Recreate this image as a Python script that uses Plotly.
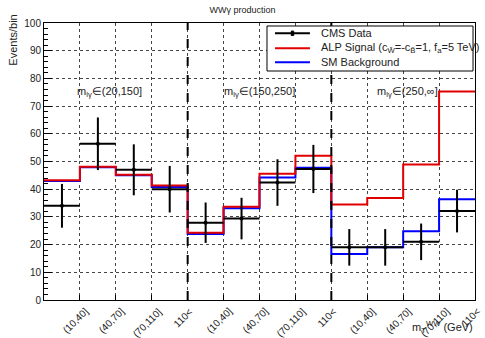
import plotly.graph_objects as go

# bin labels (12 bins, three m_lγ regions of four m_T^WW bins each)
bin_labels = ["(10,40]", "(40,70]", "(70,110]", "110<"] * 3
region_labels = ["m<sub>lγ</sub>∈(20,150]", "m<sub>lγ</sub>∈(150,250]", "m<sub>lγ</sub>∈(250,∞]"]
region_edges = [4, 8]

cms_data = [34.0, 56.4, 47.0, 40.0, 27.9, 29.4, 42.4, 47.3, 19.0, 19.0, 21.0, 32.1]
cms_err = [7.9, 9.5, 9.2, 8.4, 7.3, 7.5, 8.4, 8.7, 6.6, 6.6, 6.6, 7.7]
alp_signal = [43.2, 48.1, 45.2, 41.3, 24.3, 33.7, 45.6, 52.1, 34.5, 36.8, 48.9, 75.3]
sm_background = [43.0, 47.9, 45.0, 40.8, 23.8, 33.1, 44.2, 47.7, 16.6, 19.0, 24.8, 36.4]

legend_names = ["CMS Data",
                "ALP Signal (c<sub>W\u0303</sub>=-c<sub>B\u0303</sub>=1, f<sub>a</sub>=5 TeV)",
                "SM Background"]
legend_colors = ["black", "#e00000", "#0000ff"]

n_bins = len(cms_data)
edges = list(range(n_bins + 1))
centers = [i + 0.5 for i in range(n_bins)]

FONT = "Liberation Sans, Arial, sans-serif"
TXT = "#222222"

fig = go.Figure()

# histogrammes en escalier
fig.add_trace(go.Scatter(
    x=edges, y=sm_background + sm_background[-1:],
    mode="lines", line=dict(color="#0000ff", width=2, shape="hv"),
    name="SM Background",
))
fig.add_trace(go.Scatter(
    x=edges, y=alp_signal + alp_signal[-1:],
    mode="lines", line=dict(color="#e00000", width=2, shape="hv"),
    name="ALP Signal",
))
fig.add_trace(go.Scatter(
    x=centers, y=cms_data, mode="markers",
    marker=dict(color="black", size=4),
    error_x=dict(type="constant", value=0.5, color="black", thickness=2, width=0),
    error_y=dict(type="data", array=cms_err, color="black", thickness=2, width=0),
    name="CMS Data",
))

for xe in region_edges:
    fig.add_shape(type="line", xref="x", yref="y", x0=xe, x1=xe, y0=0, y1=100,
                  line=dict(color="black", width=2, dash="dash"), layer="above")

# bin labels, rotated
for i, lab in enumerate(bin_labels):
    fig.add_annotation(x=i + 1 - 0.12, y=0, xref="x", yref="paper", text=lab,
                       textangle=-45, showarrow=False, xanchor="center", yanchor="top",
                       yshift=-3, font=dict(family=FONT, size=10, color=TXT))

region_x = [0.86, 4.96, 9.22]
for xl, lab in zip(region_x, region_labels):
    fig.add_annotation(x=xl, y=75, xref="x", yref="y", text=lab, showarrow=False,
                       xanchor="left", yanchor="middle",
                       font=dict(family=FONT, size=11, color=TXT))

# legende dessinee a la main (style ROOT)
fig.add_shape(type="rect", xref="paper", yref="paper", x0=0.5174, x1=0.9954, y0=0.8267, y1=0.9892,
              line=dict(color="black", width=1), fillcolor="white", layer="above")
leg_y = [0.9628, 0.9087, 0.8581]
for ly, name, col in zip(leg_y, legend_names, legend_colors):
    fig.add_shape(type="line", xref="paper", yref="paper", x0=0.536, x1=0.617, y0=ly, y1=ly,
                  line=dict(color=col, width=2), layer="above")
    fig.add_annotation(x=0.638, y=ly, xref="paper", yref="paper", text=name, showarrow=False,
                       xanchor="left", yanchor="middle",
                       font=dict(family=FONT, size=11, color=TXT))
fig.add_shape(type="rect", xref="paper", yref="paper", x0=0.5737, x1=0.5793, y0=leg_y[0] - 0.008,
              y1=leg_y[0] + 0.008, line=dict(color="black", width=1), fillcolor="black", layer="above")

fig.add_annotation(x=-0.074, y=1.036, xref="paper", yref="paper", text="Events/bin",
                   textangle=-90, showarrow=False, xanchor="center", yanchor="top",
                   font=dict(family=FONT, size=11, color=TXT))
fig.add_annotation(x=1.0, y=-0.134, xref="paper", yref="paper",
                   text="m<sub>T</sub><sup>WW</sup> (GeV)", showarrow=False,
                   xanchor="right", yanchor="bottom",
                   font=dict(family=FONT, size=11, color=TXT))

fig.update_xaxes(range=[0, n_bins], dtick=1, tick0=0, showticklabels=False,
                 showgrid=True, gridcolor="#444444", griddash="dot", gridwidth=1,
                 ticks="inside", ticklen=5, tickcolor="black",
                 showline=True, linecolor="black", linewidth=1, mirror=True, zeroline=False)
fig.update_yaxes(range=[0, 100], dtick=10, tick0=0,
                 showgrid=True, gridcolor="#444444", griddash="dot", gridwidth=1,
                 ticks="inside", ticklen=8, tickcolor="black",
                 minor=dict(ticks="inside", ticklen=4, dtick=2, tickcolor="black", showgrid=False),
                 showline=True, linecolor="black", linewidth=1, mirror=True, zeroline=False,
                 tickfont=dict(family=FONT, size=10, color=TXT))

fig.update_layout(
    width=485, height=338,
    margin=dict(l=44, r=10, t=23, b=38),
    paper_bgcolor="white", plot_bgcolor="white",
    title=dict(text="WWγ production", x=0.5, xref="container", y=0.97, yanchor="middle",
               font=dict(family=FONT, size=9, color=TXT)),
    showlegend=False,
)

fig.write_html("out.html", config={"displayModeBar": False},
               post_script="document.body.style.margin='0';")
